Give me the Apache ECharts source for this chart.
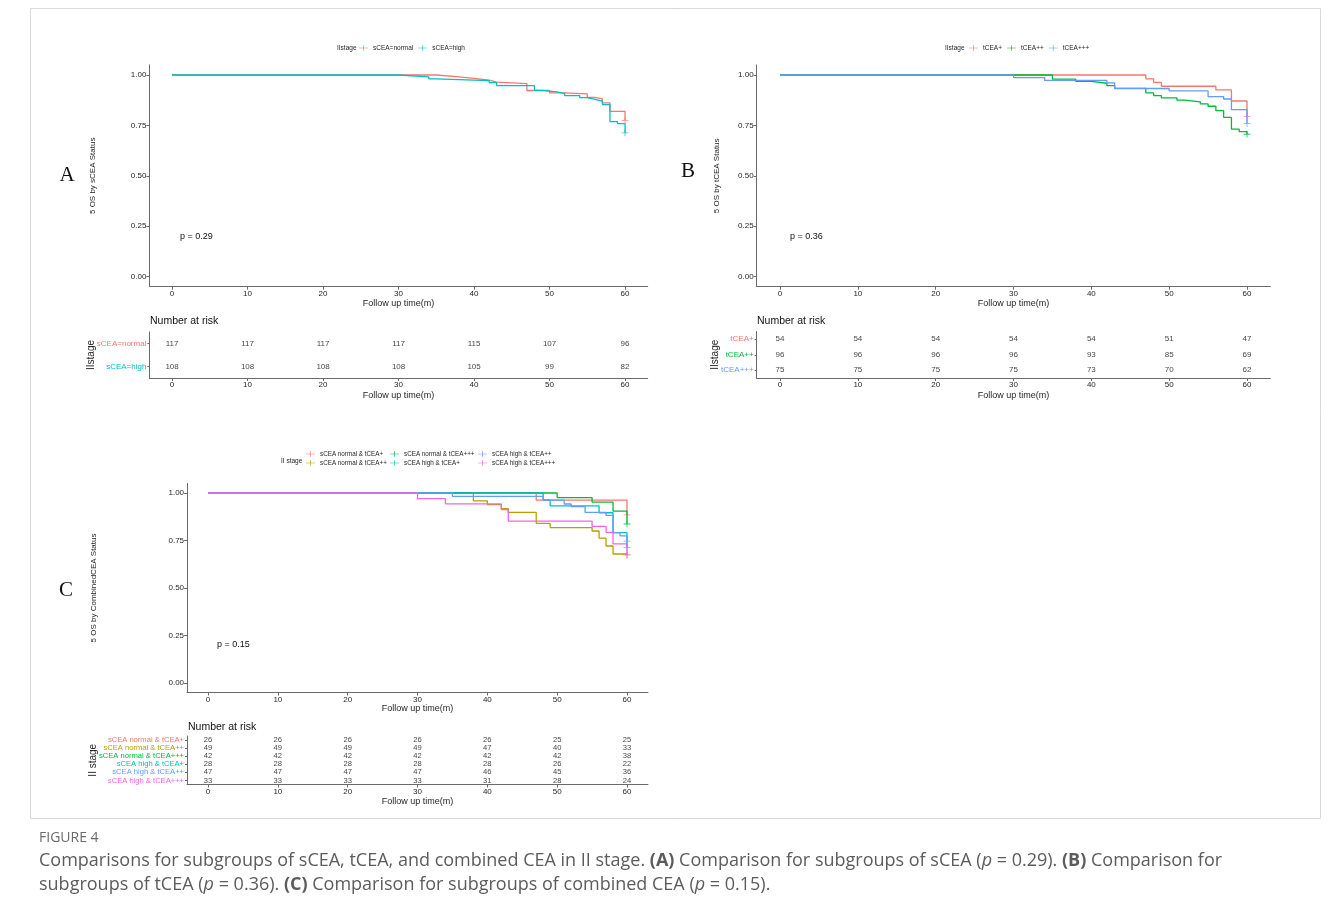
<!DOCTYPE html>
<html><head><meta charset="utf-8">
<script src="https://cdn.jsdelivr.net/npm/echarts@6/dist/echarts.min.js"></script>
<style>html,body{margin:0;padding:0;background:#fff}#c{width:1330px;height:919px}</style>
</head><body><div id="c"></div>
<script>
// ---------- data ----------
const timeTicks = [0, 10, 20, 30, 40, 50, 60];
const survTicks = [0, 0.25, 0.5, 0.75, 1];

// Panel A
const groupsA = ['sCEA=normal', 'sCEA=high'];
const colorsA = ['#F8766D', '#00BFC4'];
const timeA_normal = [0, 35, 38, 40, 42, 43, 47, 50, 52, 55, 56, 57, 58, 60];
const survA_normal = [1, 0.991, 0.983, 0.974, 0.965, 0.957, 0.923, 0.911, 0.906, 0.889, 0.881, 0.862, 0.820, 0.775];
const timeA_high = [0, 30, 34, 35, 42, 43, 48, 49, 51, 52, 54, 55, 56, 57, 58, 59, 60];
const survA_high = [1, 0.991, 0.981, 0.972, 0.962, 0.947, 0.924, 0.916, 0.908, 0.898, 0.888, 0.879, 0.870, 0.853, 0.769, 0.759, 0.713];
const riskA_normal = [117, 117, 117, 117, 115, 107, 96];
const riskA_high = [108, 108, 108, 108, 105, 99, 82];

// Panel B
const groupsB = ['tCEA+', 'tCEA++', 'tCEA+++'];
const colorsB = ['#F8766D', '#00BA38', '#619CFF'];
const timeB_1 = [0, 47, 48, 49, 56, 58, 60];
const survB_1 = [1, 0.981, 0.963, 0.944, 0.926, 0.871, 0.795];
const timeB_2 = [0, 35, 38, 40, 42, 43, 47, 48, 49, 51, 52, 54, 55, 56, 57, 58, 59, 60];
const survB_2 = [1, 0.979, 0.968, 0.959, 0.947, 0.934, 0.911, 0.898, 0.886, 0.875, 0.867, 0.857, 0.845, 0.823, 0.790, 0.731, 0.719, 0.706];
const timeB_3 = [0, 30, 34, 42, 43, 50, 55, 57, 58, 60];
const survB_3 = [1, 0.987, 0.973, 0.961, 0.933, 0.921, 0.893, 0.881, 0.828, 0.759];
const riskB_1 = [54, 54, 54, 54, 54, 51, 47];
const riskB_2 = [96, 96, 96, 96, 93, 85, 69];
const riskB_3 = [75, 75, 75, 75, 73, 70, 62];

// Panel C
const groupsC = ['sCEA normal & tCEA+', 'sCEA normal & tCEA++', 'sCEA normal & tCEA+++', 'sCEA high & tCEA+', 'sCEA high & tCEA++', 'sCEA high & tCEA+++'];
const colorsC = ['#F8766D', '#B79F00', '#00BA38', '#00BFC4', '#619CFF', '#F564E3'];
const timeC_1 = [0, 47, 60];
const survC_1 = [1, 0.962, 0.885];
const timeC_2 = [0, 38, 40, 42, 43, 47, 49, 55, 56, 57, 58, 60];
const survC_2 = [1, 0.959, 0.939, 0.918, 0.898, 0.840, 0.818, 0.800, 0.762, 0.721, 0.679, 0.674];
const timeC_3 = [0, 50, 55, 58, 60];
const survC_3 = [1, 0.976, 0.952, 0.905, 0.837];
const timeC_4 = [0, 48, 49, 56, 58, 60];
const survC_4 = [1, 0.964, 0.932, 0.896, 0.791, 0.714];
const timeC_5 = [0, 35, 48, 51, 52, 54, 57, 58, 59, 60];
const survC_5 = [1, 0.982, 0.962, 0.942, 0.928, 0.898, 0.882, 0.791, 0.774, 0.747];
const timeC_6 = [0, 30, 34, 42, 43, 55, 57, 58, 60];
const survC_6 = [1, 0.970, 0.943, 0.912, 0.852, 0.824, 0.793, 0.732, 0.674];
const riskC_1 = [26, 26, 26, 26, 26, 25, 25];
const riskC_2 = [49, 49, 49, 49, 47, 40, 33];
const riskC_3 = [42, 42, 42, 42, 42, 42, 38];
const riskC_4 = [28, 28, 28, 28, 28, 26, 22];
const riskC_5 = [47, 47, 47, 47, 46, 45, 36];
const riskC_6 = [33, 33, 33, 33, 31, 28, 24];

// ---------- layout ----------
const FONT = "'Liberation Sans', Arial, sans-serif";
const AX = '#6a6a6a';
const TXT = '#262626';
const NUM = '#111';
const PLUS = 'path://M4.4,0H5.6V4.4H10V5.6H5.6V10H4.4V5.6H0V4.4H4.4Z';
const LEGICON = 'path://M0,4.5H16V5.5H0ZM7.4,0H8.6V10H7.4Z';

const panels = [
  { mainGrid: {left: 149.4, top: 64.9, width: 498.3, height: 221.8},
    riskGrid: {left: 149.4, top: 332, width: 498.3, height: 46},
    names: groupsA, colors: colorsA,
    times: [timeA_normal, timeA_high], surv: [survA_normal, survA_high],
    counts: [riskA_normal, riskA_high],
    yName: '5 OS by sCEA Status', riskName: 'IIstage', yGap: 53, riskFont: 8 },
  { mainGrid: {left: 756.65, top: 64.9, width: 513.7, height: 221.8},
    riskGrid: {left: 756.65, top: 331.5, width: 513.7, height: 46.5},
    names: groupsB, colors: colorsB,
    times: [timeB_1, timeB_2, timeB_3], surv: [survB_1, survB_2, survB_3],
    counts: [riskB_1, riskB_2, riskB_3],
    yName: '5 OS by tCEA Status', riskName: 'IIstage', yGap: 36, riskFont: 8 },
  { mainGrid: {left: 187.05, top: 483.5, width: 460.9, height: 209},
    riskGrid: {left: 187.05, top: 736, width: 460.9, height: 48.5},
    names: groupsC, colors: colorsC,
    times: [timeC_1, timeC_2, timeC_3, timeC_4, timeC_5, timeC_6],
    surv: [survC_1, survC_2, survC_3, survC_4, survC_5, survC_6],
    counts: [riskC_1, riskC_2, riskC_3, riskC_4, riskC_5, riskC_6],
    yName: '5 OS by CombinedCEA Status', riskName: 'II stage', yGap: 89, riskFont: 7.6 }
];

const grid = [], xAxis = [], yAxis = [], series = [];
panels.forEach((p, i) => {
  const gm = 2 * i, gr = 2 * i + 1;
  grid.push(p.mainGrid, p.riskGrid);
  const xCommon = (gi, gap) => ({
    type: 'value', gridIndex: gi, min: -3, max: 63,
    axisLine: {show: true, onZero: false, lineStyle: {color: AX, width: 1}},
    axisTick: {show: true, customValues: timeTicks, length: 3, lineStyle: {color: AX}},
    axisLabel: {customValues: timeTicks, fontSize: 8, color: TXT, margin: 3, fontFamily: FONT},
    splitLine: {show: false},
    name: 'Follow up time(m)', nameLocation: 'middle', nameGap: gap, nameMoveOverlap: false,
    nameTextStyle: {fontSize: 9, color: TXT, fontFamily: FONT}
  });
  xAxis.push(xCommon(gm, 12), xCommon(gr, 13));
  yAxis.push({
    type: 'value', gridIndex: gm, min: -0.05, max: 1.05,
    axisLine: {show: true, onZero: false, lineStyle: {color: AX, width: 1}},
    axisTick: {show: true, customValues: survTicks, length: 3, lineStyle: {color: AX}},
    axisLabel: {customValues: survTicks, fontSize: 8, color: TXT, margin: 3, fontFamily: FONT,
      formatter: v => v.toFixed(2)},
    splitLine: {show: false},
    name: p.yName, nameLocation: 'middle', nameRotate: 90, nameGap: p.yGap, nameMoveOverlap: false,
    nameTextStyle: {fontSize: 8, color: TXT, fontFamily: FONT}
  });
  const rich = {};
  p.colors.forEach((c, k) => { rich['c' + k] = {color: c, fontSize: p.riskFont, fontFamily: FONT}; });
  yAxis.push({
    type: 'category', gridIndex: gr, data: p.names, inverse: true,
    axisLine: {show: true, onZero: false, lineStyle: {color: AX, width: 1}},
    axisTick: {show: true, length: 2, alignWithLabel: true, lineStyle: {color: AX}},
    axisLabel: {margin: 3, interval: 0, formatter: (v, idx) => '{c' + idx + '|' + v + '}', rich: rich},
    name: p.riskName, nameLocation: 'middle', nameRotate: 90, nameGap: p.yGap, nameMoveOverlap: false,
    nameTextStyle: {fontSize: 10, color: TXT, fontFamily: FONT}
  });
  p.names.forEach((name, g) => {
    const t = p.times[g], s = p.surv[g];
    series.push({
      type: 'line', name: name, xAxisIndex: gm, yAxisIndex: gm, step: 'end',
      symbol: 'none', data: t.map((v, k) => [v, s[k]]),
      lineStyle: {color: p.colors[g], width: 1.3}, itemStyle: {color: p.colors[g]},
      z: 2 + g, animation: false
    });
    series.push({
      type: 'scatter', name: name + ' (censor)', xAxisIndex: gm, yAxisIndex: gm,
      symbol: PLUS, symbolSize: 7, data: [[t[t.length - 1], s[s.length - 1]]],
      itemStyle: {color: p.colors[g]}, z: 3 + g, animation: false
    });
    series.push({
      type: 'scatter', name: name + ' (risk)', xAxisIndex: gr, yAxisIndex: gr,
      symbolSize: 1, itemStyle: {color: 'rgba(0,0,0,0)'},
      data: timeTicks.map((tt, k) => [tt, g, p.counts[g][k]]),
      label: {show: true, position: 'inside', formatter: q => String(q.value[2]),
        fontSize: p.riskFont, color: NUM, fontFamily: FONT},
      animation: false
    });
  });
});

const legendBase = {
  icon: LEGICON, itemWidth: 9, itemHeight: 8, itemGap: 5, padding: 0,
  textStyle: {fontSize: 6.5, color: TXT, fontFamily: FONT}, selectedMode: false
};
const legend = [
  Object.assign({}, legendBase, {left: 359, top: 44.5, data: groupsA}),
  Object.assign({}, legendBase, {left: 969, top: 44.5, data: groupsB}),
  Object.assign({}, legendBase, {left: 306, top: 451, orient: 'vertical', itemGap: 3, data: groupsC.slice(0, 2), textStyle: {fontSize: 6.3, color: TXT, fontFamily: FONT}}),
  Object.assign({}, legendBase, {left: 390, top: 451, orient: 'vertical', itemGap: 3, data: groupsC.slice(2, 4), textStyle: {fontSize: 6.3, color: TXT, fontFamily: FONT}}),
  Object.assign({}, legendBase, {left: 478, top: 451, orient: 'vertical', itemGap: 3, data: groupsC.slice(4, 6), textStyle: {fontSize: 6.3, color: TXT, fontFamily: FONT}})
];

function txt(x, y, text, font, fill, align) {
  return {type: 'text', x: x, y: y, silent: true,
    style: {text: text, font: font, fill: fill || TXT, align: align || 'left', verticalAlign: 'middle'}};
}
const CAPFAM = "'Open Sans', Lato, sans-serif";
const CAPC = '#5c5c5c';
const capRich = {
  n: {fontSize: 18, fontFamily: CAPFAM, fill: CAPC},
  b: {fontSize: 18, fontFamily: CAPFAM, fontWeight: 'bold', fill: CAPC},
  i: {fontSize: 18, fontFamily: CAPFAM, fontStyle: 'italic', fill: CAPC}
};
function capLine(y, text) {
  return {type: 'text', x: 39, y: y, silent: true,
    style: {text: text, rich: capRich, font: "18px " + CAPFAM, fill: CAPC, verticalAlign: 'middle'}};
}

const graphic = [
  {type: 'rect', shape: {x: 30.5, y: 8.5, width: 1290, height: 810}, style: {fill: 'none', stroke: '#d9d9d9', lineWidth: 1}, silent: true},
  txt(67, 175, 'A', "21px 'Liberation Serif', serif", '#111', 'center'),
  txt(688, 171, 'B', "21px 'Liberation Serif', serif", '#111', 'center'),
  txt(66, 590, 'C', "21px 'Liberation Serif', serif", '#111', 'center'),
  txt(337, 48, 'IIstage', "6.5px 'Liberation Sans', Arial", TXT),
  txt(945, 48, 'IIstage', "6.5px 'Liberation Sans', Arial", TXT),
  txt(281, 461, 'II stage', "6.5px 'Liberation Sans', Arial", TXT),
  txt(180, 237, 'p = 0.29', "9px 'Liberation Sans', Arial", '#111'),
  txt(790, 237, 'p = 0.36', "9px 'Liberation Sans', Arial", '#111'),
  txt(217, 645, 'p = 0.15', "9px 'Liberation Sans', Arial", '#111'),
  txt(150, 321, 'Number at risk', "10.5px 'Liberation Sans', Arial", '#111'),
  txt(757, 321, 'Number at risk', "10.5px 'Liberation Sans', Arial", '#111'),
  txt(188, 727, 'Number at risk', "10.5px 'Liberation Sans', Arial", '#111'),
  txt(39, 838, 'FIGURE 4', "14px " + CAPFAM, '#6b6b6b'),
  capLine(861, '{n|Comparisons for subgroups of sCEA, tCEA, and combined CEA in II stage. }{b|(A)}{n| Comparison for subgroups of sCEA (}{i|p}{n| = 0.29). }{b|(B)}{n| Comparison for}'),
  capLine(885, '{n|subgroups of tCEA (}{i|p}{n| = 0.36). }{b|(C)}{n| Comparison for subgroups of combined CEA (}{i|p}{n| = 0.15).}')
];

const chart = echarts.init(document.getElementById('c'));
chart.setOption({
  backgroundColor: '#fff', animation: false,
  grid: grid, xAxis: xAxis, yAxis: yAxis, series: series, legend: legend, graphic: graphic
});
</script>
</body></html>
